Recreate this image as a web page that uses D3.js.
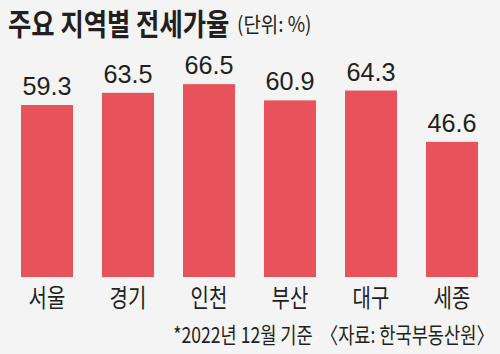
<!DOCTYPE html>
<html>
<head>
<meta charset="utf-8">
<script src="https://cdn.jsdelivr.net/npm/d3@7"></script>
<style>
  body { margin: 0; background: #f4f4f4; }
  svg { display: block; }
</style>
</head>
<body>
<div id="chart"></div>
<script>
// data
var regions = ["서울", "경기", "인천", "부산", "대구", "세종"];
var rates = [59.3, 63.5, 66.5, 60.9, 64.3, 46.6];

var title = "주요 지역별 전세가율";
var unit = "(단위: %)";
var source = "*2022년 12월 기준  〈자료: 한국부동산원〉";

var w = 500;
var h = 354;

var svg = d3.select("#chart")
  .append("svg")
  .attr("width", w)
  .attr("height", h);

svg.append("rect")
  .attr("width", w)
  .attr("height", h)
  .attr("fill", "#f4f4f4");

// scales
var xScale = d3.scaleBand()
  .domain(regions)
  .range([21, 478])
  .paddingInner(0.358)
  .paddingOuter(0);

var yScale = d3.scaleLinear()
  .domain([0, 70])
  .range([277, 74]);

var bars = regions.map(function(r, i) { return { region: r, value: rates[i] }; });

// bars
svg.append("g")
  .selectAll("rect")
  .data(bars)
  .enter()
  .append("rect")
  .attr("x", function(d) { return xScale(d.region); })
  .attr("y", function(d) { return yScale(d.value); })
  .attr("width", xScale.bandwidth())
  .attr("height", function(d) { return yScale(0) - yScale(d.value); })
  .attr("fill", "#e8535b");

// value labels
svg.append("g")
  .selectAll("text")
  .data(bars)
  .enter()
  .append("text")
  .attr("transform", function(d) {
    return "translate(" + (xScale(d.region) + xScale.bandwidth() / 2) + "," + (yScale(d.value) - 10) + ") scale(0.97,1)";
  })
  .attr("text-anchor", "middle")
  .attr("font-family", "'Liberation Sans Narrow', sans-serif")
  .attr("font-size", "26px")
  .attr("fill", "#231f20")
  .text(function(d) { return d.value.toFixed(1); });

// category axis labels
var xAxis = d3.axisBottom(xScale).tickSize(0).tickPadding(0);
var axisG = svg.append("g")
  .attr("transform", "translate(0,307)")
  .call(xAxis);
axisG.select(".domain").remove();
axisG.selectAll(".tick text")
  .attr("y", 0)
  .attr("dy", 0)
  .attr("transform", "scale(0.8,1)")
  .attr("font-family", "'Noto Sans CJK KR', sans-serif")
  .attr("font-size", "25px")
  .attr("fill", "#231f20");

// title
svg.append("text")
  .attr("transform", "translate(8,35) scale(0.845,1)")
  .attr("font-family", "'Noto Sans CJK KR', sans-serif")
  .attr("font-weight", "bold")
  .attr("font-size", "30px")
  .attr("fill", "#231f20")
  .text(title);

svg.append("text")
  .attr("transform", "translate(237,32) scale(0.9,1)")
  .attr("font-family", "'Noto Sans CJK KR', sans-serif")
  .attr("font-size", "21px")
  .attr("fill", "#231f20")
  .text(unit);

// source
svg.append("text")
  .attr("transform", "translate(494,343) scale(0.8,1)")
  .attr("text-anchor", "end")
  .attr("font-family", "'Noto Sans CJK KR', sans-serif")
  .attr("font-size", "22px")
  .attr("fill", "#231f20")
  .style("white-space", "pre")
  .text(source);
</script>
</body>
</html>
